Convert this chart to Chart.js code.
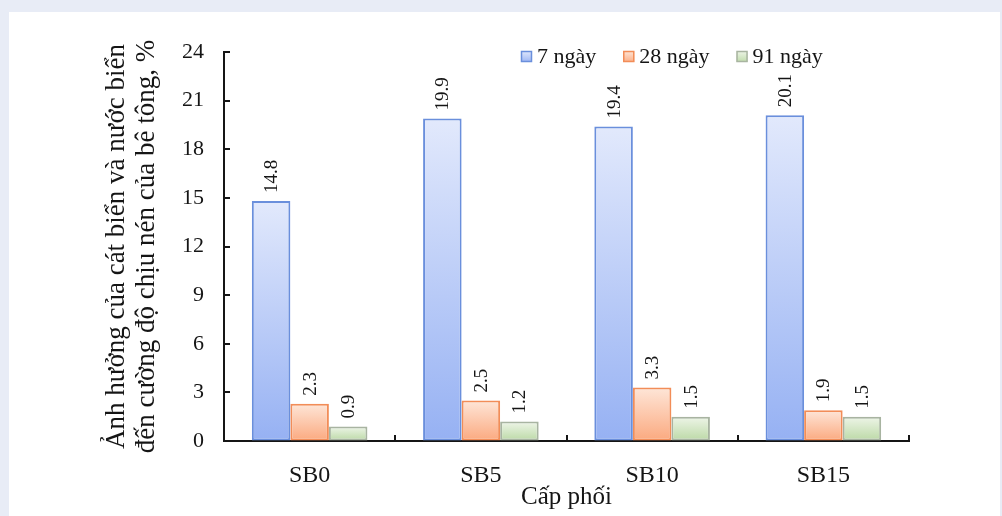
<!DOCTYPE html>
<html>
<head>
<meta charset="utf-8">
<script src="https://cdn.jsdelivr.net/npm/chart.js@4.4.1/dist/chart.umd.min.js"></script>
<style>
  html, body { margin: 0; padding: 0; background: #e8ecf6; }
  #wrap { position: absolute; left: 0; top: 0; width: 1002px; height: 516px; }
</style>
</head>
<body>
<div id="wrap"><canvas id="c" width="1002" height="516"></canvas></div>
<script>
// Compressive strength effect of sea sand and sea water, %
const categories = ['SB0', 'SB5', 'SB10', 'SB15'];
const seriesNames = ['7 ngày', '28 ngày', '91 ngày'];
const days7 = [14.8, 19.9, 19.4, 20.1];
const days28 = [2.3, 2.5, 3.3, 1.9];
const days91 = [0.9, 1.2, 1.5, 1.5];
const yTicks = [0, 3, 6, 9, 12, 15, 18, 21, 24];

const FONT = "'Liberation Serif', 'Times New Roman', serif";
const INK = '#151515';

// vertical gradient per bar, light at the top, deeper at the base
function barGradient(topColor, bottomColor) {
  return (ctx) => {
    const chart = ctx.chart;
    if (!chart.chartArea || ctx.type !== 'data') return bottomColor;
    const y = chart.scales.y;
    const y0 = y.getPixelForValue(0);
    const y1 = y.getPixelForValue(ctx.raw);
    if (!isFinite(y0) || !isFinite(y1) || y0 === y1) return bottomColor;
    const g = chart.ctx.createLinearGradient(0, y1, 0, y0);
    g.addColorStop(0, topColor);
    g.addColorStop(1, bottomColor);
    return g;
  };
}

const palette = [
  { top: '#e2e9fc', bottom: '#96b1f3', border: '#6a8fdc' },
  { top: '#fee6d8', bottom: '#fba97f', border: '#f28d58' },
  { top: '#eef5e8', bottom: '#bbd9a5', border: '#a8b4a1' }
];

const values = [days7, days28, days91];

// page background with the white panel
const panelPlugin = {
  id: 'panel',
  beforeDraw(chart) {
    const c = chart.ctx;
    c.save();
    c.fillStyle = '#e8ecf6';
    c.fillRect(0, 0, chart.width, chart.height);
    c.fillStyle = '#ffffff';
    c.fillRect(9, 12, 991, chart.height - 12);
    c.restore();
  }
};

// inward tick marks on both axes
const innerTicks = {
  id: 'innerTicks',
  afterDraw(chart) {
    const c = chart.ctx;
    const x = chart.scales.x, y = chart.scales.y;
    const a = chart.chartArea;
    c.save();
    c.strokeStyle = INK;
    c.lineWidth = 2;
    c.beginPath();
    y.ticks.forEach((t, i) => {
      const py = Math.round(y.getPixelForTick(i));
      c.moveTo(a.left, py);
      c.lineTo(a.left + 6, py);
    });
    const n = categories.length;
    for (let i = 1; i <= n; i++) {
      const px = i < n
        ? Math.round((x.getPixelForValue(i - 1) + x.getPixelForValue(i)) / 2)
        : Math.round(a.right);
      c.moveTo(px, a.bottom);
      c.lineTo(px, a.bottom - 6);
    }
    c.stroke();
    c.restore();
  }
};

// rotated value labels above every bar
const valueLabels = {
  id: 'valueLabels',
  afterDatasetsDraw(chart) {
    const c = chart.ctx;
    c.save();
    c.fillStyle = INK;
    c.font = '19px ' + FONT;
    c.textAlign = 'left';
    c.textBaseline = 'middle';
    chart.data.datasets.forEach((ds, di) => {
      const meta = chart.getDatasetMeta(di);
      meta.data.forEach((bar, i) => {
        c.save();
        c.translate(bar.x + 1, bar.y - 8);
        c.rotate(-Math.PI / 2);
        c.fillText(ds.data[i].toFixed(1), 0, 0);
        c.restore();
      });
    });
    c.restore();
  }
};

// legend row inside the plot, upper right
const legendRow = {
  id: 'legendRow',
  afterDraw(chart) {
    const c = chart.ctx;
    c.save();
    c.font = '22px ' + FONT;
    c.textBaseline = 'middle';
    c.textAlign = 'left';
    let px = 521;
    const cy = 57;
    seriesNames.forEach((name, i) => {
      const p = palette[i];
      const g = c.createLinearGradient(0, cy - 6, 0, cy + 6);
      g.addColorStop(0, p.top);
      g.addColorStop(1, p.bottom);
      c.fillStyle = g;
      c.fillRect(px, cy - 6, 11, 11);
      c.strokeStyle = p.border;
      c.lineWidth = 1.5;
      c.strokeRect(px + 0.5, cy - 5.5, 10, 10);
      c.fillStyle = INK;
      c.fillText(name, px + 16, cy);
      px += 16 + c.measureText(name).width + 27;
    });
    c.restore();
  }
};

new Chart(document.getElementById('c'), {
  type: 'bar',
  data: {
    labels: categories,
    datasets: seriesNames.map((name, i) => ({
      label: name,
      data: values[i],
      backgroundColor: barGradient(palette[i].top, palette[i].bottom),
      borderColor: palette[i].border,
      borderWidth: 2,
      borderSkipped: false,
      barPercentage: 1,
      categoryPercentage: 0.675
    }))
  },
  options: {
    responsive: false,
    animation: false,
    events: [],
    layout: { padding: { left: 0, right: 93, top: 52, bottom: 0 } },
    plugins: {
      legend: { display: false },
      title: { display: false },
      tooltip: { enabled: false }
    },
    scales: {
      x: {
        grid: { display: true, drawOnChartArea: false, drawTicks: false, offset: true },
        border: { display: true, color: INK, width: 2 },
        ticks: { color: INK, font: { family: FONT, size: 24 }, padding: 20 },
        title: {
          display: true, text: 'Cấp phối', color: INK,
          font: { family: FONT, size: 25, lineHeight: 1.2 }, padding: { top: 0, bottom: 4 }
        },
        afterFit(s) { s.height = 75; }
      },
      y: {
        min: 0, max: 24,
        afterBuildTicks(s) { s.ticks = yTicks.map(v => ({ value: v })); },
        grid: { display: true, drawOnChartArea: false, drawTicks: false },
        border: { display: true, color: INK, width: 2 },
        ticks: { color: INK, font: { family: FONT, size: 22 }, padding: 20 },
        title: {
          display: true,
          text: ['Ảnh hưởng của cát biển và nước biển', 'đến cường độ chịu nén của bê tông, %'],
          color: INK,
          font: { family: FONT, size: 27, lineHeight: 1.11 },
          padding: { top: 102, bottom: 0 }
        },
        afterFit(s) { s.width = 224; }
      }
    }
  },
  plugins: [panelPlugin, valueLabels, innerTicks, legendRow]
});
</script>
</body>
</html>
